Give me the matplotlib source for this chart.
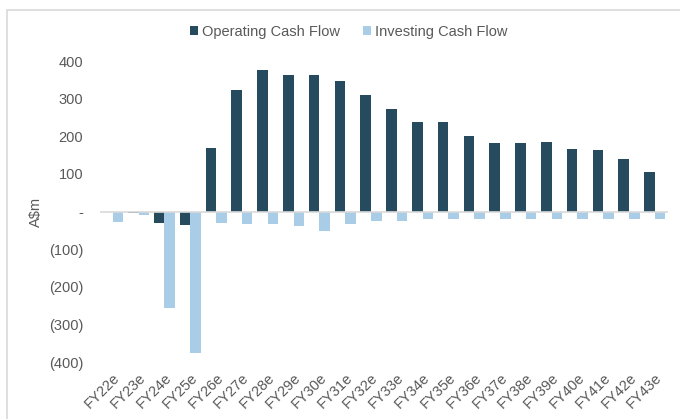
import numpy as np
import matplotlib.pyplot as plt
from matplotlib.patches import Rectangle

plt.rcParams['font.family'] = ['Liberation Sans', 'DejaVu Sans']

years = ['FY22e', 'FY23e', 'FY24e', 'FY25e', 'FY26e', 'FY27e', 'FY28e', 'FY29e',
         'FY30e', 'FY31e', 'FY32e', 'FY33e', 'FY34e', 'FY35e', 'FY36e', 'FY37e',
         'FY38e', 'FY39e', 'FY40e', 'FY41e', 'FY42e', 'FY43e']
operating = [-2, -3, -30, -35, 170, 324, 377, 363, 363, 347, 310, 274, 237, 237,
             200, 182, 182, 186, 167, 165, 140, 106]
investing = [-27, -10, -257, -375, -31, -32, -32, -39, -52, -32, -26, -26, -19, -19,
             -19, -19, -19, -19, -19, -19, -19, -19]
yticks = [-400, -300, -200, -100, 0, 100, 200, 300, 400]

dark = '#264a5e'
light = '#a9cde6'
grey = '#595959'
fs = 10.5

fig = plt.figure(figsize=(6.8, 4.19), dpi=100)
ax = fig.add_axes([0.147, 0.136, 0.835, 0.718])

x = np.arange(len(years))
w = 0.41
ax.bar(x - w / 2, operating, w, color=dark, label='Operating Cash Flow')
ax.bar(x + w / 2, investing, w, color=light, label='Investing Cash Flow')

ax.set_xlim(-0.5, len(years) - 0.5)
ax.set_ylim(-400, 400)
ax.axhline(0, color='#d9d9d9', lw=1.2)

def fmt(v):
    if v == 0:
        return '-'
    if v < 0:
        return '(%d)' % -v
    return '%d' % v

ax.set_yticks(yticks)
ax.set_yticklabels([fmt(v) for v in yticks])
ax.set_xticks(x)
ax.set_xticklabels(years, rotation=45, ha='right', rotation_mode='anchor')
ax.tick_params(axis='both', length=0, colors=grey, labelsize=fs)
ax.tick_params(axis='y', pad=12)
ax.tick_params(axis='x', pad=6)
for s in ax.spines.values():
    s.set_visible(False)

ax.set_ylabel('A\\$m', color=grey, fontsize=fs)
ax.yaxis.set_label_coords(-0.1, 0.5)

fig.legend(loc='center', bbox_to_anchor=(349 / 680, 1 - 32 / 419), ncol=2, frameon=False,
           fontsize=fs, handlelength=0.55, handleheight=0.55, handletextpad=0.25,
           columnspacing=1.6, labelcolor=grey)

# light frame around the chart
fig.patches.append(Rectangle((7 / 680, -0.1), 1.2, 1 - 10 / 419 + 0.1,
                             transform=fig.transFigure, fill=False,
                             edgecolor='#d9d9d9', lw=1.2))

fig.savefig('out.png', dpi=100)
